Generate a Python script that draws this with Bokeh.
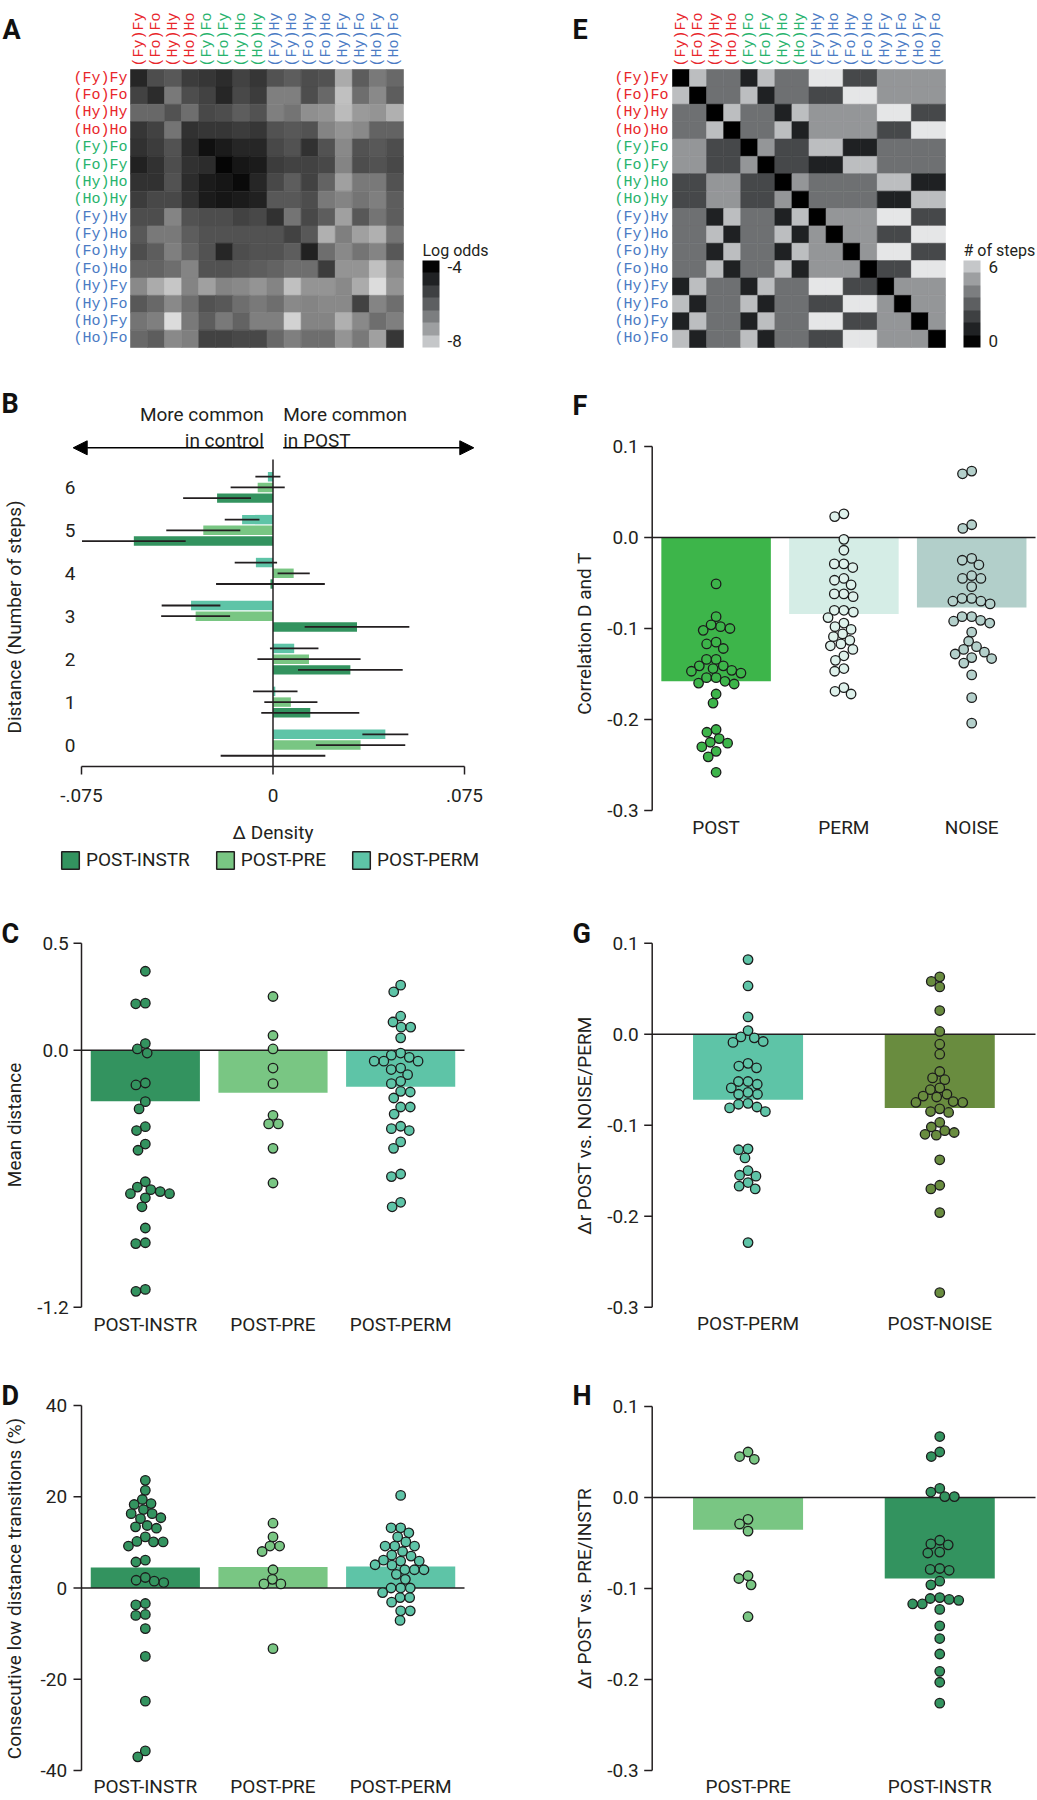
import math
from bokeh.plotting import figure
from bokeh.models import (Range1d, LinearColorMapper, ColorBar, FixedTicker, LabelSet, Label,
                          ColumnDataSource, Arrow, NormalHead, Legend, LegendItem)
from bokeh.layouts import column, row
from bokeh.transform import dodge, transform
from bokeh.core.properties import value, field
from bokeh.embed import file_html
from bokeh.resources import INLINE

FONT = "Roboto"
MONO = "Liberation Mono"
FS = "19px"
TXT = "#231f20"
AX = "#231f20"
EDGE = "#1c1c1c"

# ---------------- data ----------------
STATES = ["(Fy)Fy", "(Fo)Fo", "(Hy)Hy", "(Ho)Ho", "(Fy)Fo", "(Fo)Fy", "(Hy)Ho", "(Ho)Hy",
          "(Fy)Hy", "(Fy)Ho", "(Fo)Hy", "(Fo)Ho", "(Hy)Fy", "(Hy)Fo", "(Ho)Fy", "(Ho)Fo"]
STATE_GROUP = ["same"] * 4 + ["switch"] * 4 + ["cross"] * 8
GROUP_COLOR = {"same": "#e8262b", "switch": "#27b36d", "cross": "#4a7bc4"}

LOG_ODDS = [
    [-4.7, -5.4, -5.6, -5.1, -5.0, -4.8, -5.2, -5.0, -5.5, -5.7, -5.4, -5.5, -7.1, -5.7, -6.2, -5.9],
    [-5.2, -4.8, -6.2, -5.4, -5.2, -4.7, -5.3, -5.1, -6.3, -6.3, -5.4, -5.9, -7.5, -6.0, -6.5, -5.7],
    [-5.9, -5.9, -5.5, -6.0, -5.3, -5.4, -5.7, -5.5, -6.3, -6.1, -6.6, -6.7, -7.4, -6.8, -6.7, -7.2],
    [-5.0, -5.2, -6.1, -4.9, -5.0, -5.0, -5.1, -5.0, -5.5, -5.6, -5.5, -6.4, -6.7, -6.5, -5.8, -5.8],
    [-4.9, -5.1, -5.5, -4.8, -4.3, -4.5, -4.7, -4.7, -5.3, -5.5, -4.9, -5.5, -6.5, -5.5, -5.6, -5.4],
    [-4.6, -4.9, -5.4, -4.9, -4.8, -4.1, -4.4, -4.5, -5.1, -5.2, -5.2, -5.3, -6.4, -5.4, -5.5, -5.3],
    [-4.9, -4.9, -5.5, -4.8, -4.5, -4.4, -4.2, -4.7, -5.3, -5.7, -5.2, -5.8, -6.9, -6.2, -6.2, -5.5],
    [-5.1, -5.3, -5.3, -4.9, -4.5, -4.4, -4.5, -4.6, -5.6, -5.6, -5.4, -6.2, -6.4, -6.1, -6.3, -5.7],
    [-5.4, -5.4, -6.4, -5.5, -5.4, -5.4, -5.2, -5.3, -4.9, -6.1, -5.3, -5.7, -6.9, -5.6, -6.1, -5.7],
    [-5.6, -6.2, -6.2, -5.7, -5.5, -5.5, -5.5, -5.5, -5.5, -5.2, -5.6, -7.2, -6.3, -6.9, -7.2, -6.1],
    [-5.4, -5.7, -6.3, -5.8, -5.5, -4.7, -5.4, -5.5, -5.5, -5.7, -4.6, -6.0, -6.5, -6.1, -6.4, -5.6],
    [-5.8, -5.8, -6.0, -6.4, -5.5, -5.5, -5.6, -5.7, -5.8, -6.0, -6.0, -5.1, -6.7, -6.7, -7.5, -6.5],
    [-6.5, -7.1, -7.6, -6.4, -6.9, -6.4, -6.5, -6.7, -6.4, -7.5, -6.7, -6.7, -6.5, -7.1, -8.0, -6.7],
    [-5.6, -5.9, -6.5, -6.0, -5.5, -5.6, -6.0, -6.2, -6.0, -6.5, -6.4, -6.5, -6.5, -5.2, -6.4, -6.0],
    [-6.1, -6.3, -8.0, -6.2, -5.7, -6.2, -5.8, -6.3, -6.3, -7.8, -6.4, -6.4, -7.2, -6.5, -6.0, -6.3],
    [-5.9, -5.7, -6.5, -6.3, -5.2, -5.2, -5.3, -5.3, -5.9, -6.3, -6.0, -6.0, -6.7, -6.2, -6.9, -5.0],
]

STEPS = [
    [0, 5, 3, 3, 1, 5, 3, 3, 6, 6, 2, 2, 4, 4, 4, 4],
    [5, 0, 3, 3, 5, 1, 3, 3, 2, 2, 6, 6, 4, 4, 4, 4],
    [3, 3, 0, 5, 3, 3, 1, 5, 4, 4, 4, 4, 6, 6, 2, 2],
    [3, 3, 5, 0, 3, 3, 5, 1, 4, 4, 4, 4, 2, 2, 6, 6],
    [4, 4, 2, 2, 0, 4, 2, 2, 5, 5, 1, 1, 3, 3, 3, 3],
    [4, 4, 2, 2, 4, 0, 2, 2, 1, 1, 5, 5, 3, 3, 3, 3],
    [2, 2, 4, 4, 2, 2, 0, 4, 3, 3, 3, 3, 5, 5, 1, 1],
    [2, 2, 4, 4, 2, 2, 4, 0, 3, 3, 3, 3, 1, 1, 5, 5],
    [3, 3, 1, 5, 3, 3, 1, 5, 0, 4, 4, 4, 6, 6, 2, 2],
    [3, 3, 5, 1, 3, 3, 5, 1, 4, 0, 4, 4, 2, 2, 6, 6],
    [3, 3, 1, 5, 3, 3, 1, 5, 4, 4, 0, 4, 6, 6, 2, 2],
    [3, 3, 5, 1, 3, 3, 5, 1, 4, 4, 4, 0, 2, 2, 6, 6],
    [1, 5, 3, 3, 1, 5, 3, 3, 6, 6, 2, 2, 0, 4, 4, 4],
    [5, 1, 3, 3, 5, 1, 3, 3, 2, 2, 6, 6, 4, 0, 4, 4],
    [1, 5, 3, 3, 1, 5, 3, 3, 6, 6, 2, 2, 4, 4, 0, 4],
    [5, 1, 3, 3, 5, 1, 3, 3, 2, 2, 6, 6, 4, 4, 4, 0],
]

# Panel B
DIST = [0, 1, 2, 3, 4, 5, 6]
B_XTICKS = [-0.075, 0, 0.075]
B_XTICK_LABELS = ["-.075", "0", ".075"]
B_INSTR = [0.0, 0.0146, 0.0303, 0.0329, -0.0010, -0.0545, -0.0219]
B_INSTR_ERR = [0.0205, 0.0192, 0.0205, 0.0205, 0.0213, 0.0203, 0.0133]
B_PRE = [0.0343, 0.0070, 0.0141, -0.0303, 0.0081, -0.0273, -0.0060]
B_PRE_ERR = [0.0175, 0.0104, 0.0202, 0.0135, 0.0063, 0.0145, 0.0106]
B_PERM = [0.0440, 0.0009, 0.0083, -0.0321, -0.0067, -0.0121, -0.0020]
B_PERM_ERR = [0.0090, 0.0087, 0.0095, 0.0115, 0.0083, 0.0068, 0.0049]

# Panel C
C_CATS = ["POST-INSTR", "POST-PRE", "POST-PERM"]
C_TICKS = [-1.2, 0.0, 0.5]
C_MEANS = [-0.238, -0.199, -0.171]
C_INSTR = [0.369, 0.217, 0.220, 0.031, 0.006, -0.013, -0.162, -0.153, -0.240, -0.274, -0.357, -0.375,
           -0.438, -0.467, -0.614, -0.639, -0.660, -0.651, -0.670, -0.670, -0.689, -0.731, -0.830,
           -0.903, -0.899, -1.126, -1.117]
C_PRE = [0.251, 0.069, 0.006, -0.083, -0.156, -0.304, -0.344, -0.344, -0.458, -0.620]
C_PERM = [0.304, 0.273, 0.159, 0.132, 0.108, 0.108, 0.058, -0.013, -0.023, -0.033, -0.051, -0.051,
          -0.051, -0.083, -0.090, -0.114, -0.145, -0.156, -0.192, -0.195, -0.223, -0.265, -0.265,
          -0.298, -0.355, -0.366, -0.375, -0.428, -0.458, -0.578, -0.590, -0.710, -0.731]

# Panel D
D_CATS = ["POST-INSTR", "POST-PRE", "POST-PERM"]
D_TICKS = [-40, -20, 0, 20, 40]
D_MEANS = [4.5, 4.6, 4.7]
D_INSTR = [23.6, 21.4, 19.4, 18.5, 18.3, 17.2, 16.3, 16.3, 15.4, 15.2, 13.7, 13.4, 13.1, 11.2, 10.1,
           9.2, 10.1, 10.2, 5.7, 6.1, 1.7, 1.2, 1.5, 2.3, -3.7, -3.4, -6.0, -5.8, -8.9, -15.0, -24.8,
           -35.7, -37.0]
D_PRE = [14.2, 11.2, 9.2, 9.2, 8.0, 4.0, 1.9, 0.9, 0.9, -13.3]
D_PERM = [20.3, 13.2, 13.2, 12.1, 11.2, 10.1, 9.2, 9.2, 9.2, 8.0, 7.0, 7.2, 6.1, 5.9, 5.9, 5.0, 5.1,
          4.0, 4.0, 4.0, 3.0, 1.9, 0.0, 0.0, 0.0, -1.0, -2.1, -2.1, -3.1, -5.0, -5.0, -7.1]

# Panels F, G, H share a y scale
R_TICKS = [-0.3, -0.2, -0.1, 0.0, 0.1]

F_CATS = ["POST", "PERM", "NOISE"]
F_MEANS = [-0.158, -0.084, -0.077]
F_POST = [-0.051, -0.087, -0.098, -0.102, -0.100, -0.096, -0.115, -0.117, -0.122, -0.134, -0.134,
          -0.141, -0.141, -0.146, -0.149, -0.147, -0.144, -0.154, -0.158, -0.161, -0.160, -0.154,
          -0.172, -0.182, -0.211, -0.214, -0.221, -0.226, -0.225, -0.230, -0.235, -0.241, -0.258]
F_PERM = [0.023, 0.026, -0.002, -0.014, -0.029, -0.029, -0.033, -0.045, -0.047, -0.052, -0.062,
          -0.065, -0.062, -0.080, -0.080, -0.082, -0.088, -0.094, -0.098, -0.101, -0.106, -0.109,
          -0.113, -0.117, -0.119, -0.123, -0.130, -0.135, -0.144, -0.147, -0.165, -0.169, -0.172]
F_NOISE = [0.070, 0.073, 0.010, 0.014, -0.023, -0.025, -0.030, -0.045, -0.042, -0.045, -0.054,
           -0.067, -0.070, -0.070, -0.067, -0.073, -0.087, -0.091, -0.094, -0.092, -0.087, -0.104,
           -0.114, -0.120, -0.123, -0.126, -0.128, -0.132, -0.133, -0.138, -0.151, -0.176, -0.204]

G_CATS = ["POST-PERM", "POST-NOISE"]
G_MEANS = [-0.072, -0.081]
G_PERM = [0.082, 0.053, 0.019, 0.004, -0.004, -0.003, -0.009, -0.008, -0.032, -0.035, -0.037,
          -0.052, -0.052, -0.055, -0.059, -0.064, -0.066, -0.066, -0.077, -0.076, -0.080, -0.081,
          -0.085, -0.126, -0.127, -0.136, -0.150, -0.155, -0.156, -0.163, -0.167, -0.170, -0.229]
G_NOISE = [0.063, 0.058, 0.052, 0.026, 0.003, -0.011, -0.022, -0.041, -0.048, -0.050, -0.059,
           -0.061, -0.068, -0.069, -0.066, -0.075, -0.075, -0.074, -0.082, -0.085, -0.086, -0.097,
           -0.102, -0.108, -0.111, -0.110, -0.106, -0.138, -0.166, -0.170, -0.196, -0.284]

H_CATS = ["POST-PRE", "POST-INSTR"]
H_MEANS = [-0.0355, -0.089]
H_PRE = [0.050, 0.042, 0.045, -0.024, -0.029, -0.037, -0.086, -0.089, -0.096, -0.131]
H_INSTR = [0.067, 0.050, 0.045, 0.006, 0.010, 0.001, 0.001, -0.047, -0.052, -0.051, -0.061, -0.060,
           -0.078, -0.080, -0.079, -0.092, -0.096, -0.113, -0.117, -0.111, -0.117, -0.112, -0.110,
           -0.123, -0.141, -0.155, -0.172, -0.191, -0.203, -0.226]

# ---------------- styles ----------------
INSTR_COL = "#33935f"
PRE_COL = "#79c683"
PERM_COL = "#5ec4a7"
F_POST_COL = "#3db54a"
F_PERM_BAR, F_PERM_DOT = "#d5ede6", "#def1eb"
F_NOISE_BAR, F_NOISE_DOT = "#b2cfca", "#b4d0cb"
G_NOISE_COL = "#698c3f"


def _gray(level):
    return "#%02x%02x%02x" % (level, level, level)


HEAT_PAL = [_gray(int(round(220 - 220 * i / 255))) for i in range(256)]
STEP_PAL = ["#000000", "#1f2123", "#46484a", "#6e7072", "#949698", "#bcbec0", "#e5e6e7"]
CB_PAL_DARKTOP = ["#c5c7c9", "#9d9fa1", "#7c7e80", "#5d5f61", "#3e4042", "#202224", "#040404"]
CB_PAL_DARKBOT = CB_PAL_DARKTOP[::-1]

DOT = 9.5
SWARM_D = 9.6


def lin(da, pa, db, pb):
    k = (db - da) / (pb - pa)
    return lambda p: da + (p - pa) * k


class Geo:
    """Maps page pixels to data values for a figure whose frame fills the whole figure."""

    def __init__(self, ox, oy, w, h, xa, ya):
        self.w, self.h = w, h
        self.xd = lin(*xa)
        self.yd = lin(*ya)
        self.x_range = Range1d(self.xd(ox), self.xd(ox + w))
        self.y_range = Range1d(self.yd(oy + h), self.yd(oy))
        self.xpx = abs((xa[3] - xa[1]) / (xa[2] - xa[0]))
        self.ypx = abs((ya[3] - ya[1]) / (ya[2] - ya[0]))


def base_fig(g):
    p = figure(width=g.w, height=g.h, x_range=g.x_range, y_range=g.y_range, title=None,
               output_backend="svg", toolbar_location=None, x_axis_location=None,
               y_axis_location=None, min_border=0)
    p.outline_line_color = None
    p.xgrid.grid_line_color = None
    p.ygrid.grid_line_color = None
    p.grid.visible = False
    return p


def text(p, g, txt, px, py, align="left", baseline="alphabetic", size=FS, angle=0.0,
         style="normal", color=TXT):
    p.add_layout(Label(x=g.xd(px), y=g.yd(py), text=txt, text_font=FONT, text_font_size=size,
                       text_align=align, text_baseline=baseline, angle=angle,
                       text_font_style=style, text_color=color))


def letter(p, g, txt, px, py):
    text(p, g, txt, px, py, size="27px", style="bold", color="#111111")


def swarm(vals, ypx, d):
    order = sorted(range(len(vals)), key=lambda i: -vals[i])
    placed = []
    offs = [0.0] * len(vals)
    for i in order:
        y = vals[i] * ypx
        cands = [0.0]
        for (px, py) in placed:
            dy = py - y
            if abs(dy) < d:
                dx = math.sqrt(d * d - dy * dy)
                cands.extend([px + dx, px - dx])
        cands.sort(key=lambda c: (abs(c), c))
        for c in cands:
            if all((c - px) ** 2 + (y - py) ** 2 >= d * d - 1e-6 for px, py in placed):
                offs[i] = c
                placed.append((c, y))
                break
    return offs


def y_axis(p, g, ticks, fmt, axis_px, label_right_px):
    xa, xt = g.xd(axis_px), g.xd(axis_px - 8)
    n = len(ticks)
    p.segment(x0=[xa], x1=[xa], y0=[min(ticks)], y1=[max(ticks)], line_color=AX, line_width=1.5)
    p.segment(x0=[xt] * n, x1=[xa] * n, y0=ticks, y1=ticks, line_color=AX, line_width=1.5)
    src = ColumnDataSource(dict(x=[g.xd(label_right_px)] * n, y=ticks,
                                text=[fmt % t for t in ticks]))
    p.add_layout(LabelSet(x="x", y="y", text="text", source=src, text_align="right",
                          text_baseline="middle", text_font=value(FONT), text_font_size=FS,
                          text_color=TXT))


def heat_panel(g, mat, mapper, cb_mapper, cb_ticks, cb_labels, cb_title, cb_loc, title_px,
               letter_txt, letter_px, row_right):
    p = base_fig(g)
    xs, ys, vs = [], [], []
    for r, rowvals in enumerate(mat):
        for c, v in enumerate(rowvals):
            xs.append(c + 0.5)
            ys.append(r + 0.5)
            vs.append(v)
    src = ColumnDataSource(dict(x=xs, y=ys, v=vs))
    p.rect(x="x", y="y", width=1, height=1, source=src, fill_color=transform("v", mapper),
           line_color=transform("v", mapper), line_width=0.6)
    cols = [GROUP_COLOR[s] for s in STATE_GROUP]
    n = len(STATES)
    rs = ColumnDataSource(dict(x=[g.xd(row_right)] * n, y=[i + 0.5 for i in range(n)],
                               text=STATES, color=cols))
    p.add_layout(LabelSet(x="x", y="y", text="text", source=rs, text_color=field("color"),
                          text_align="right", text_baseline="middle", text_font=value(MONO),
                          text_font_size="15px"))
    cs = ColumnDataSource(dict(x=[i + 0.5 for i in range(n)], y=[g.yd(66)] * n,
                               text=STATES, color=cols))
    p.add_layout(LabelSet(x="x", y="y", text="text", source=cs, text_color=field("color"),
                          angle=math.pi / 2, text_align="left", text_baseline="middle",
                          text_font=value(MONO), text_font_size="15px"))
    cb = ColorBar(color_mapper=cb_mapper, ticker=FixedTicker(ticks=cb_ticks),
                  major_label_overrides=dict(zip(cb_ticks, cb_labels)),
                  location=cb_loc, width=17, height=87, padding=0, margin=0, title=None,
                  major_label_text_font=FONT, major_label_text_font_size="17px",
                  major_label_text_color=TXT, major_tick_line_color=None, minor_tick_line_color=None,
                  bar_line_color=None, border_line_color=None, background_fill_color=None,
                  label_standoff=8)
    p.add_layout(cb, "center")
    text(p, g, cb_title, title_px, 250, size="16px")
    letter(p, g, letter_txt, letter_px, 29)
    return p


def bar_panel(g, cats, means, groups, bar_cols, dot_cols, bw, ticks, fmt, axis_px, tick_right_px,
              zero_right_px, base_py, ylabel, ylab_px, ylab_py, letter_txt, letter_px, letter_py):
    p = base_fig(g)
    centers = [i + 0.5 for i in range(len(cats))]
    p.vbar(x=centers, top=means, bottom=0, width=bw, fill_color=bar_cols, line_color=None)
    p.segment(x0=[g.xd(axis_px)], x1=[g.xd(zero_right_px)], y0=[0], y1=[0], line_color=AX,
              line_width=1.5)
    y_axis(p, g, ticks, fmt, axis_px, tick_right_px)
    for c, vals, col in zip(centers, groups, dot_cols):
        offs = swarm(vals, g.ypx, SWARM_D)
        p.scatter(x=[c + o / g.xpx for o in offs], y=vals, size=DOT, fill_color=col,
                  line_color=EDGE, line_width=1.3)
    ls = ColumnDataSource(dict(x=centers, y=[g.yd(base_py)] * len(cats), text=cats))
    p.add_layout(LabelSet(x="x", y="y", text="text", source=ls, text_align="center",
                          text_baseline="alphabetic", text_font=value(FONT), text_font_size=FS,
                          text_color=TXT))
    text(p, g, ylabel, ylab_px, ylab_py, align="center", baseline="middle", angle=math.pi / 2)
    letter(p, g, letter_txt, letter_px, letter_py)
    return p


LW, RW = 520, 517   # column widths (page has no margin: layout starts at 0,0)

# ---------------- Row 1: heatmaps ----------------
gA = Geo(0, 0, LW, 370, (0, 130, 16, 403), (0, 69, 16, 347))
mapA = LinearColorMapper(palette=HEAT_PAL, low=-8, high=-4)
cbA = LinearColorMapper(palette=CB_PAL_DARKTOP, low=-8 - 1 / 3.0, high=-4 + 1 / 3.0)
pA = heat_panel(gA, LOG_ODDS, mapA, cbA, [-8, -4], ["-8", "-4"], "Log odds", (422, 23), 422,
                "A", 2, 127)

gE = Geo(LW, 0, RW, 370, (0, 672, 16, 945), (0, 69, 16, 347))
mapE = LinearColorMapper(palette=STEP_PAL, low=-0.5, high=6.5)
cbE = LinearColorMapper(palette=CB_PAL_DARKBOT, low=-0.5, high=6.5)
pE = heat_panel(gE, STEPS, mapE, cbE, [0, 6], ["0", "6"], "# of steps", (443, 23), 963,
                "E", 572, 668)

# ---------------- Row 2: B and F ----------------
gB = Geo(0, 370, LW, 535, (-0.075, 81, 0.075, 464), (6.65, 459, -0.5, 766))
pB = base_fig(gB)
series = [("POST-INSTR", -0.25, INSTR_COL, B_INSTR, B_INSTR_ERR),
          ("POST-PRE", 0.0, PRE_COL, B_PRE, B_PRE_ERR),
          ("POST-PERM", 0.25, PERM_COL, B_PERM, B_PERM_ERR)]
srcs = []
for name, off, col, m, e in series:
    s = ColumnDataSource(dict(d=DIST, m=m, lo=[a - b for a, b in zip(m, e)],
                              hi=[a + b for a, b in zip(m, e)]))
    srcs.append((s, off))
    pB.hbar(y=dodge("d", off, range=pB.y_range), left=0, right="m", height=0.22, fill_color=col,
            line_color=None, source=s)
# zero line, axis line, ticks
pB.segment(x0=[0], x1=[0], y0=[gB.yd(766)], y1=[gB.yd(459)], line_color=AX, line_width=1.5)
pB.segment(x0=[B_XTICKS[0]], x1=[B_XTICKS[-1]], y0=[gB.yd(766)], y1=[gB.yd(766)], line_color=AX,
           line_width=1.5)
pB.segment(x0=B_XTICKS, x1=B_XTICKS, y0=[gB.yd(766)] * 3, y1=[gB.yd(774)] * 3, line_color=AX,
           line_width=1.5)
for s, off in srcs:
    pB.segment(x0="lo", x1="hi", y0=dodge("d", off, range=pB.y_range),
               y1=dodge("d", off, range=pB.y_range), line_color=AX, line_width=1.8, source=s)
pB.add_layout(LabelSet(x="x", y="y", text="text",
                       source=ColumnDataSource(dict(x=B_XTICKS, y=[gB.yd(801.7)] * 3,
                                                    text=B_XTICK_LABELS)),
                       text_align="center", text_baseline="alphabetic", text_font=value(FONT),
                       text_font_size=FS, text_color=TXT))
pB.add_layout(LabelSet(x="x", y="y", text="text",
                       source=ColumnDataSource(dict(x=[gB.xd(75)] * len(DIST), y=DIST,
                                                    text=[str(d) for d in DIST])),
                       text_align="right", text_baseline="middle", text_font=value(FONT),
                       text_font_size=FS, text_color=TXT))
text(pB, gB, "Δ Density", 272.5, 831.7, align="center")

# legend swatches: zero-size, off-screen stand-in glyphs carrying the outlined style
items = []
off_y = gB.y_range.end + 10
for name, off, col, m, e in series:
    r = pB.quad(left=[0], right=[0], top=[off_y], bottom=[off_y], fill_color=col, line_color=AX,
                line_width=1.5)
    items.append(LegendItem(label=name, renderers=[r]))
leg = Legend(items=items, orientation="horizontal", location=(59, 34), glyph_width=22,
             glyph_height=22, label_standoff=5, spacing=24, padding=0, margin=0,
             border_line_color=None, background_fill_alpha=0, label_text_font=FONT,
             label_text_font_size=FS, label_text_color=TXT)
pB.add_layout(leg, "center")

arrow_y = gB.yd(447.3)
for x0, x1 in [(263.3, 72.7), (282.7, 473.3)]:
    pB.add_layout(Arrow(end=NormalHead(size=14, fill_color="black", line_color="black"),
                        x_start=gB.xd(x0), y_start=arrow_y, x_end=gB.xd(x1), y_end=arrow_y,
                        line_color="black", line_width=1.5))
for txt, px, py, al in [("More common", 263.3, 414.3, "right"), ("in control", 263.3, 440, "right"),
                        ("More common", 282.7, 414.3, "left"), ("in POST", 282.7, 440, "left")]:
    text(pB, gB, txt, px, py, align=al)
text(pB, gB, "Distance (Number of steps)", 14, 616.5, align="center", baseline="middle",
     angle=math.pi / 2)
letter(pB, gB, "B", 1, 403)

gF = Geo(LW, 370, RW, 535, (0, 651.7, 1, 779.5), (0.1, 446, -0.3, 810))
pF = bar_panel(gF, F_CATS, F_MEANS, [F_POST, F_PERM, F_NOISE],
               [F_POST_COL, F_PERM_BAR, F_NOISE_BAR], [F_POST_COL, F_PERM_DOT, F_NOISE_DOT],
               0.857, R_TICKS, "%.1f", 651.7, 638.3, 1035, 833,
               "Correlation D and T", 584, 633, "F", 572, 405)

# ---------------- Row 3: C and G ----------------
gC = Geo(0, 905, LW, 455, (0, 81, 3, 464), (0.5, 942.7, -1.2, 1306.7))
pC = bar_panel(gC, C_CATS, C_MEANS, [C_INSTR, C_PRE, C_PERM],
               [INSTR_COL, PRE_COL, PERM_COL], [INSTR_COL, PRE_COL, PERM_COL],
               0.855, C_TICKS, "%.1f", 81, 68.3, 464, 1330,
               "Mean distance", 14, 1124.5, "C", 1, 933)

gG = Geo(LW, 905, RW, 455, (0, 651.7, 1, 843.4), (0.1, 942.7, -0.3, 1306.7))
pG = bar_panel(gG, G_CATS, G_MEANS, [G_PERM, G_NOISE], [PERM_COL, G_NOISE_COL],
               [PERM_COL, G_NOISE_COL], 0.574, R_TICKS, "%.1f", 651.7, 638.3, 1035, 1329,
               "Δr POST vs. NOISE/PERM", 584, 1125, "G", 572, 933)

# ---------------- Row 4: D and H ----------------
gD = Geo(0, 1360, LW, 440, (0, 81, 3, 464), (40, 1405, -40, 1770))
pD = bar_panel(gD, D_CATS, D_MEANS, [D_INSTR, D_PRE, D_PERM],
               [INSTR_COL, PRE_COL, PERM_COL], [INSTR_COL, PRE_COL, PERM_COL],
               0.855, D_TICKS, "%d", 81, 66.7, 464, 1792,
               "Consecutive low distance transitions (%)", 14, 1588, "D", 1, 1395)

gH = Geo(LW, 1360, RW, 440, (0, 651.7, 1, 843.4), (0.1, 1406, -0.3, 1770))
pH = bar_panel(gH, H_CATS, H_MEANS, [H_PRE, H_INSTR], [PRE_COL, INSTR_COL],
               [PRE_COL, INSTR_COL], 0.574, R_TICKS, "%.1f", 651.7, 638.3, 1035, 1792,
               "Δr POST vs. PRE/INSTR", 584, 1588, "H", 572, 1395)

layout = column(row(pA, pE), row(pB, pF), row(pC, pG), row(pD, pH))
open("out.html", "w").write(file_html(layout, INLINE))
